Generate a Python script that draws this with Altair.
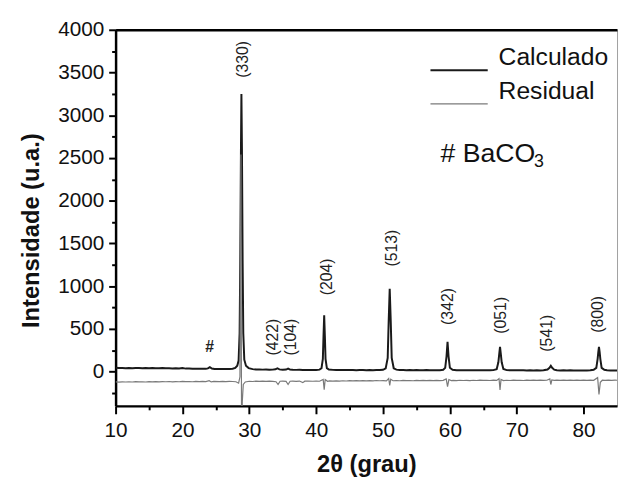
import altair as alt
import pandas as pd

# ---- data ----
calc_x = [10, 10.5, 11, 11.5, 12, 12.5, 13, 13.5, 14, 14.5, 15, 15.5, 16, 16.5, 17, 17.5, 18, 18.5, 19, 19.5,
          20, 20.5, 21, 21.5, 22, 22.5, 23, 23.5, 23.8, 24.1, 24.4, 24.8, 25.5, 26, 26.5, 27, 27.5, 27.9, 28.2, 28.4,
          28.55, 28.65, 28.75, 28.82, 28.9, 29.0, 29.1, 29.25, 29.5, 29.9, 30.5, 31, 31.5, 32, 32.5, 33, 33.5, 33.9,
          34.2, 34.5, 35, 35.5, 35.8, 36.1, 36.5, 37, 37.5, 38, 38.5, 39, 39.5, 40, 40.5, 40.8, 41.0, 41.1, 41.2,
          41.3, 41.4, 41.6, 41.9, 42.5, 43, 43.5, 44, 44.5, 45, 45.5, 46, 46.5, 47, 47.5, 48, 48.5, 49, 49.5, 50,
          50.4, 50.7, 50.85, 51.0, 51.15, 51.3, 51.6, 52, 52.5, 53, 53.5, 54, 54.5, 55, 55.5, 56, 56.5, 57, 57.5,
          58, 58.5, 59, 59.3, 59.5, 59.65, 59.8, 60.0, 60.4, 61, 61.5, 62, 62.5, 63, 63.5, 64, 64.5, 65, 65.5, 66,
          66.5, 67, 67.25, 67.4, 67.5, 67.6, 67.75, 68.0, 68.5, 69, 69.5, 70, 70.5, 71, 71.5, 72, 72.5, 73, 73.5,
          74, 74.6, 74.9, 75.1, 75.3, 75.6, 76, 76.5, 77, 77.5, 78, 78.5, 79, 79.5, 80, 80.5, 81, 81.5, 81.9, 82.1,
          82.2, 82.3, 82.4, 82.5, 82.7, 83.1, 83.5, 84, 84.5, 85]
calc_y = [45, 42, 44, 41, 43, 40, 42, 44, 40, 42, 39, 43, 41, 40, 43, 39, 41, 38, 40, 37,
          42, 36, 37, 34, 35, 33, 34, 33, 38, 52, 37, 32, 31, 32, 31, 32, 35, 45, 70, 130,
          450, 1300, 2600, 3250, 2600, 1300, 450, 140, 70, 42, 30, 26, 25, 24, 25, 23, 24, 28,
          40, 27, 23, 25, 36, 24, 22, 21, 22, 20, 21, 20, 21, 20, 24, 40, 150, 420, 660,
          420, 150, 42, 26, 21, 20, 21, 19, 20, 19, 20, 18, 19, 20, 18, 19, 18, 19, 20, 22,
          38, 160, 600, 970, 600, 160, 40, 24, 20, 19, 18, 19, 18, 19, 17, 18, 19, 17, 18,
          17, 18, 22, 45, 180, 350, 180, 45, 22, 18, 17, 18, 16, 17, 16, 17, 16, 17, 16, 17,
          18, 30, 110, 220, 290, 220, 110, 32, 18, 17, 16, 17, 16, 17, 15, 16, 15, 16, 15,
          17, 25, 45, 68, 45, 24, 17, 15, 16, 15, 16, 14, 15, 14, 15, 14, 16, 22, 45, 150,
          230, 290, 230, 150, 45, 22, 16, 15, 14, 15]

res_x = [10, 10.5, 11, 11.5, 12, 12.5, 13, 13.5, 14, 14.5, 15, 15.5, 16, 16.5, 17, 17.5, 18, 18.5, 19, 19.5,
         20, 20.5, 21, 21.5, 22, 22.5, 23, 23.5, 24.0, 24.3, 24.7, 25.5, 26, 26.5, 27, 27.5, 28, 28.4, 28.6, 28.75,
         28.8, 28.85, 28.95, 29.1, 29.4, 30, 30.5, 31, 31.5, 32, 32.5, 33, 33.5, 34.0, 34.3, 34.6, 35, 35.5, 35.8,
         36.1, 36.5, 37, 37.5, 38, 38.3, 38.8, 39.5, 40, 40.5, 41.05, 41.2, 41.35, 41.7, 42, 42.5, 43, 43.5, 44,
         44.5, 45, 45.5, 46, 46.5, 47, 47.5, 48, 48.5, 49, 49.5, 50, 50.5, 50.85, 51.0, 51.15, 51.5, 52, 52.5, 53,
         53.5, 54, 54.5, 55, 55.5, 56, 56.5, 57, 57.5, 58, 58.5, 59, 59.45, 59.65, 59.85, 60.2, 60.5, 61, 61.5, 62,
         62.5, 63, 63.5, 64, 64.5, 65, 65.5, 66, 66.5, 67, 67.35, 67.5, 67.65, 68, 68.5, 69, 69.5, 70, 70.5, 71,
         71.5, 72, 72.5, 73, 73.5, 74, 74.5, 74.95, 75.1, 75.25, 75.6, 76, 76.5, 77, 77.5, 78, 78.5, 79, 79.5, 80,
         80.5, 81, 81.5, 82.1, 82.3, 82.5, 82.8, 83.2, 83.7, 84.2, 84.7, 85]
res_y = [-120, -122, -119, -121, -118, -121, -117, -120, -118, -121, -117, -119, -116, -120, -117, -118, -115, -119, -116, -118,
         -114, -117, -115, -118, -114, -116, -113, -116, -106, -120, -114, -116, -113, -116, -113, -115, -118, -135, -60, 2540,
         600, -900, -350, -150, -120, -112, -115, -111, -114, -110, -113, -111, -114, -118, -150, -112, -110, -114, -150,
         -112, -110, -113, -110, -128, -111, -109, -112, -110, -112, -90, -210, -92, -112, -108, -111, -107, -110, -106,
         -109, -105, -108, -104, -107, -105, -108, -104, -107, -103, -106, -104, -108, -80, -160, -88, -106, -103, -106, -102,
         -105, -103, -106, -102, -105, -101, -104, -102, -105, -101, -104, -102, -85, -175, -92, -104, -101, -104, -100, -103,
         -101, -104, -100, -103, -99, -102, -100, -103, -99, -102, -82, -215, -90, -104, -100, -103, -99, -102, -100, -103,
         -99, -101, -98, -101, -99, -102, -100, -85, -150, -96, -101, -99, -102, -98, -101, -99, -102, -98, -101, -99,
         -102, -99, -101, -70, -265, -125, -100, -102, -99, -101, -99, -100]

peak_labels = ["(330)", "(422)", "(104)", "(204)", "(513)", "(342)", "(051)", "(541)", "(800)"]
peak_label_x = [29.0, 33.5, 36.3, 41.6, 51.4, 59.7, 67.7, 74.6, 82.2]
peak_label_y = [3653, 405, 405, 1110, 1445, 763, 660, 450, 670]

hash_x = [24.05]
hash_y = [290]

note_text = ["# BaCO"]
note_x = [58.6]
note_y = [2543]
sub_text = ["3"]
sub_x = [72.6]
sub_y = [2455]

series_names = ["Calculado", "Residual"]
x_major = [10, 20, 30, 40, 50, 60, 70, 80]
x_minor = [15, 25, 35, 45, 55, 65, 75]
y_major = [0, 500, 1000, 1500, 2000, 2500, 3000, 3500, 4000]
y_minor = [-250, 250, 750, 1250, 1750, 2250, 2750, 3250, 3750]

# ---- tables ----
lines_df = pd.concat([
    pd.DataFrame({"x": calc_x, "y": calc_y, "series": series_names[0]}),
    pd.DataFrame({"x": res_x, "y": res_y, "series": series_names[1]}),
], ignore_index=True)
peaks_df = pd.DataFrame({"x": peak_label_x, "y": peak_label_y, "t": peak_labels})
hash_df = pd.DataFrame({"x": hash_x, "y": hash_y, "t": ["#"]})
note_df = pd.DataFrame({"x": note_x, "y": note_y, "t": note_text})
sub_df = pd.DataFrame({"x": sub_x, "y": sub_y, "t": sub_text})

FONT = "Liberation Sans"
xs = alt.Scale(domain=[10, 85], nice=False, zero=False)
ys = alt.Scale(domain=[-400, 4000], nice=False, zero=False)

x_axis = alt.Axis(
    values=sorted(x_major + x_minor), title="2θ (grau)", format="d",
    labelExpr="datum.value % 10 === 0 ? datum.label : ''",
    tickSize={"condition": {"test": "datum.value % 10 === 0", "value": 8}, "value": 4},
    labelOverlap=False, labelFlush=False, labelFont=FONT, labelFontSize=21, labelColor="#111",
    labelPadding=6, titleFont=FONT, titleFontSize=24, titleFontWeight="bold", titleColor="#111",
    titlePadding=13, domainColor="#000", domainWidth=2.5, tickColor="#000", tickWidth=2, grid=False,
)
y_axis = alt.Axis(
    values=sorted(y_major + y_minor), title="Intensidade (u.a.)", format="d",
    labelExpr="datum.value % 500 === 0 ? datum.label : ''",
    tickSize={"condition": {"test": "datum.value % 500 === 0", "value": 7}, "value": 4},
    labelOverlap=False, labelFlush=False, labelFont=FONT, labelFontSize=21, labelColor="#111",
    labelPadding=5, titleFont=FONT, titleFontSize=24, titleFontWeight="bold", titleColor="#111",
    titlePadding=14, titleY=203, domainColor="#000", domainWidth=2.5, tickColor="#000", tickWidth=2,
    grid=False,
)
top_axis = alt.Axis(orient="top", title=None, labels=False, ticks=False, domainColor="#000",
                    domainWidth=2.5, grid=False)

lines = alt.Chart(lines_df).mark_line(clip=True).encode(
    x=alt.X("x:Q", scale=xs, axis=x_axis),
    y=alt.Y("y:Q", scale=ys, axis=y_axis),
    color=alt.Color("series:N", scale=alt.Scale(domain=series_names, range=["#1a1a1a", "#7a7a7a"]),
                    legend=alt.Legend(orient="none", legendX=318, legendY=11, title=None,
                                      symbolType="stroke", symbolSize=3364, symbolStrokeWidth=2.5,
                                      labelFont=FONT, labelFontSize=25, labelColor="#111",
                                      labelBaseline="bottom", labelOffset=10, rowPadding=-4, padding=0)),
    strokeWidth=alt.StrokeWidth("series:N", scale=alt.Scale(domain=series_names, range=[2.0, 1.2]),
                                legend=None),
)

peaks = alt.Chart(peaks_df).mark_text(angle=270, font=FONT, fontSize=16, color="#222",
                                      align="center", baseline="middle").encode(
    x=alt.X("x:Q", scale=xs, axis=top_axis),
    y=alt.Y("y:Q", scale=ys, axis=y_axis),
    text="t:N",
)
hashm = alt.Chart(hash_df).mark_text(font=FONT, fontSize=16, fontWeight="bold", color="#222",
                                     align="center", baseline="middle").encode(
    x=alt.X("x:Q", scale=xs, axis=None), y=alt.Y("y:Q", scale=ys, axis=y_axis), text="t:N")
note = alt.Chart(note_df).mark_text(font=FONT, fontSize=27, color="#111",
                                    align="left", baseline="middle").encode(
    x=alt.X("x:Q", scale=xs, axis=None), y=alt.Y("y:Q", scale=ys, axis=y_axis), text="t:N")
sub = alt.Chart(sub_df).mark_text(font=FONT, fontSize=18, color="#111",
                                  align="left", baseline="middle").encode(
    x=alt.X("x:Q", scale=xs, axis=None), y=alt.Y("y:Q", scale=ys, axis=y_axis), text="t:N")

chart = alt.layer(lines, peaks, hashm, note, sub).resolve_scale(x="shared", y="shared").resolve_axis(
    x="independent").properties(
    width=508, height=381,
    autosize=alt.AutoSizeParams(type="none"),
    padding={"left": 109, "top": 19, "right": 2, "bottom": 70},
).configure_view(stroke="#a0a0a0", strokeWidth=1)

chart.save("out.html", embed_options={"renderer": "svg", "actions": False})
